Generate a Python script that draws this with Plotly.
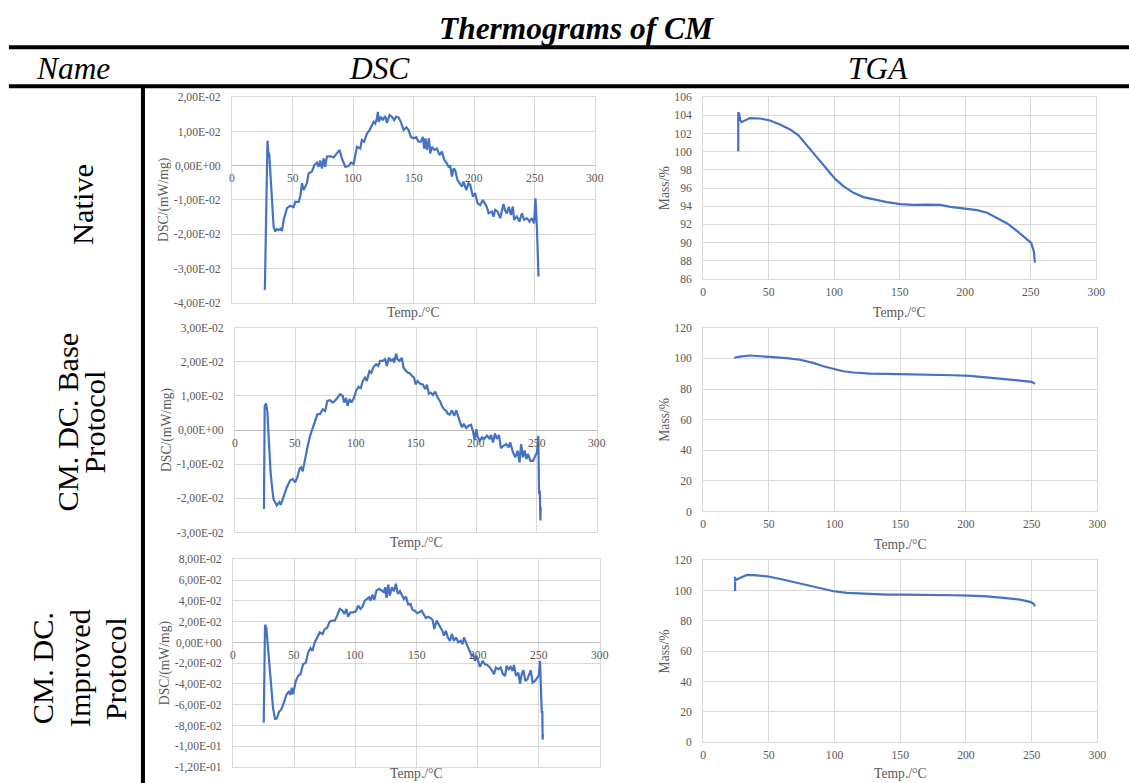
import plotly.graph_objects as go

# ---------------- data ----------------
dsc_native_t = [27.0, 27.2, 29.3, 30.0, 30.8, 32.0, 33.0, 34.4, 35.8, 37.0, 38.5, 40.0, 41.3, 42.7, 45.4, 48.2, 50.9, 52.3, 55.0, 56.4,
                57.8, 59.2, 61.9, 63.3, 66.1, 68.0, 70.2, 71.6, 72.9, 74.3, 75.7, 77.0, 78.4, 81.2, 84.0, 86.7, 88.9, 90.8, 93.6, 96.3,
                98.3, 100.5, 103.2, 106.0, 107.3, 109.2, 111.5, 113.7, 115.6, 117.0, 118.3, 119.7, 120.5, 121.3, 123.0, 124.6, 126.6,
                128.0, 130.2, 132.1, 134.0, 135.6, 137.6, 139.5, 141.8, 144.0, 145.9, 147.8, 150.0, 152.2, 154.1, 156.0, 157.7, 158.8,
                159.9, 161.0, 162.7, 163.8, 165.2, 167.2, 169.3, 171.5, 173.4, 175.3, 177.5, 178.9, 180.3, 181.7, 183.1, 184.4, 186.3,
                188.0, 190.0, 191.3, 193.5, 195.4, 196.8, 199.0, 200.9, 202.9, 205.0, 207.3, 209.2, 210.6, 212.0, 214.8, 216.0, 217.4,
                219.4, 221.6, 224.3, 225.7, 227.1, 228.7, 230.4, 232.0, 233.1, 235.3, 237.5, 239.5, 241.4, 243.6, 245.8, 247.7, 249.6,
                250.7, 251.9, 252.4, 252.9, 253.2]
dsc_native_v = [-3.62, -3.55, 0.73, 0.40, 0.33, -0.40, -0.90, -1.78, -1.92, -1.85, -1.88, -1.84, -1.90, -1.58, -1.24, -1.17, -1.21, -1.05, -1.06, -0.90,
                -0.51, -0.71, -0.51, -0.22, -0.17, 0.02, 0.09, -0.03, 0.15, -0.08, 0.21, -0.03, 0.26, 0.28, 0.24, 0.36, 0.46, 0.21, -0.03, -0.01,
                0.09, 0.05, 0.55, 0.50, 0.75, 0.70, 0.94, 1.04, 1.18, 1.28, 1.23, 1.38, 1.57, 1.28, 1.43, 1.33, 1.45,
                1.25, 1.48, 1.43, 1.33, 1.43, 1.41, 1.28, 1.04, 1.12, 1.04, 0.84, 0.80, 0.83, 0.70, 0.70, 0.84, 0.50,
                0.80, 0.46, 0.80, 0.36, 0.55, 0.46, 0.50, 0.31, 0.41, 0.18, 0.07, -0.03, -0.01, -0.32, -0.08, -0.13, -0.42,
                -0.51, -0.61, -0.46, -0.71, -0.51, -0.56, -0.90, -0.80, -1.10, -1.15, -1.00, -1.10, -1.21, -1.39, -1.34, -1.49, -1.29,
                -1.34, -1.53, -1.12, -1.31, -1.39, -1.20, -1.44, -1.19, -1.58, -1.48, -1.63, -1.39, -1.58, -1.53, -1.63, -1.53, -1.68,
                -0.95, -1.78, -2.46, -2.75, -3.23]

dsc_base_t = [24.0, 24.6, 25.7, 26.8, 27.9, 29.6, 31.8, 34.6, 36.8, 37.9, 40.1, 42.9, 45.6, 47.8, 49.8, 51.7, 53.4, 54.8, 56.1, 58.1,
              60.0, 62.2, 64.4, 66.4, 68.3, 70.5, 72.7, 74.7, 76.6, 78.8, 81.0, 82.9, 84.9, 87.1, 89.3, 90.4, 92.0, 93.2, 94.9, 96.5,
              98.1, 100.4, 102.3, 104.2, 105.9, 107.8, 109.2, 111.4, 113.0, 114.7, 116.9, 118.6, 120.3, 122.5, 124.4, 125.8, 127.5,
              129.1, 130.8, 131.9, 133.5, 134.6, 136.3, 138.2, 139.6, 141.0, 142.9, 145.1, 146.5, 148.4, 149.6, 151.2, 153.4, 155.6,
              157.6, 159.0, 160.6, 162.2, 163.9, 165.9, 167.8, 170.0, 171.4, 173.3, 175.0, 176.1, 177.8, 179.7, 181.6, 183.3, 184.7,
              186.1, 188.0, 189.4, 191.6, 193.5, 195.5, 197.1, 198.5, 199.9, 201.0, 202.7, 204.6, 206.5, 208.7, 211.0, 212.0, 213.7,
              215.4, 217.0, 218.7, 220.3, 222.5, 224.8, 226.7, 228.0, 230.3, 232.2, 234.2, 235.8, 237.0, 238.6, 240.0, 241.4, 242.7,
              244.7, 246.9, 249.1, 250.2, 251.3, 251.9, 252.5, 253.0, 253.3]
dsc_base_v = [-2.31, 0.71, 0.78, 0.56, -0.21, -1.29, -2.02, -2.21, -2.11, -2.19, -1.97, -1.68, -1.48, -1.43, -1.53, -1.38, -1.14, -1.09, -1.21, -0.80,
              -0.51, -0.17, 0.08, 0.32, 0.47, 0.47, 0.61, 0.56, 0.86, 0.88, 0.81, 0.86, 0.94, 1.05, 1.00, 0.81, 0.94, 0.71, 0.91, 0.81,
              0.91, 1.15, 1.27, 1.23, 1.44, 1.54, 1.44, 1.73, 1.68, 1.85, 1.93, 1.88, 2.03, 2.03, 2.08, 1.88, 2.13,
              2.03, 2.08, 1.98, 2.24, 2.08, 2.03, 2.12, 1.83, 1.78, 1.69, 1.66, 1.59, 1.54, 1.34, 1.44, 1.36, 1.34,
              1.20, 1.33, 1.07, 1.10, 1.03, 1.13, 0.96, 0.84, 0.71, 0.61, 0.56, 0.49, 0.45, 0.58, 0.42, 0.58, 0.39,
              0.27, 0.08, 0.18, 0.06, 0.13, 0.16, -0.02, -0.29, 0.03, -0.19, -0.31, -0.21, -0.26, -0.16, -0.26, -0.14, -0.36,
              -0.10, -0.26, -0.14, -0.53, -0.46, -0.41, -0.51, -0.36, -0.65, -0.80, -0.60, -0.95, -0.41, -0.80, -0.60, -0.85, -0.70,
              -0.90, -0.90, -0.70, -0.65, -0.17, -1.87, -1.78, -2.65, -2.26]

dsc_imp_t = [25.1, 26.2, 27.3, 28.9, 30.8, 32.7, 34.4, 36.0, 37.6, 39.5, 41.5, 43.6, 45.8, 46.9, 48.0, 49.1, 51.3, 53.2, 55.1, 57.3,
             59.5, 61.4, 63.3, 64.9, 66.8, 68.7, 70.9, 73.1, 75.0, 76.9, 79.1, 81.3, 83.2, 85.1, 87.3, 89.5, 91.1, 92.7, 94.1, 96.0,
             98.2, 100.4, 102.3, 104.2, 105.8, 107.7, 109.6, 111.3, 112.4, 114.0, 115.4, 117.3, 119.5, 121.4, 123.3, 124.4, 125.5,
             126.8, 128.2, 129.8, 131.5, 133.1, 134.7, 136.4, 137.7, 139.6, 141.3, 143.2, 145.1, 146.7, 148.6, 150.5, 152.2, 154.1,
             156.0, 157.6, 159.5, 161.5, 163.1, 164.5, 166.4, 168.0, 169.6, 171.3, 172.4, 174.0, 175.6, 177.3, 178.9, 180.5, 182.2,
             184.1, 186.0, 187.6, 188.7, 190.4, 192.3, 193.6, 195.0, 196.3, 197.7, 199.1, 200.5, 201.8, 204.0, 205.9, 207.8, 210.0,
             212.2, 213.3, 214.9, 216.8, 218.7, 220.4, 222.3, 223.6, 225.3, 226.9, 228.5, 229.6, 231.3, 233.2, 234.5, 235.9, 237.3,
             238.9, 240.5, 242.2, 243.3, 244.9, 246.8, 248.7, 249.8, 250.9, 251.5, 252.3, 252.8, 253.0, 253.3]
dsc_imp_v = [-7.74, 1.71, 1.39, -1.13, -4.03, -6.29, -7.42, -7.26, -6.68, -6.45, -5.81, -5.06, -4.68, -5.06, -4.35, -5.00, -3.71, -3.23, -3.06, -2.10,
             -1.94, -0.97, -0.55, -0.81, 0.00, 0.48, 0.97, 0.81, 1.29, 1.39, 2.03, 2.10, 2.10, 2.58, 3.23, 3.06, 2.74, 3.23, 2.48, 2.90,
             2.90, 3.00, 3.55, 3.23, 3.45, 4.03, 4.19, 4.35, 4.03, 4.61, 4.10, 5.00, 5.16, 5.00, 4.84, 5.32, 4.29,
             5.58, 4.52, 5.32, 4.94, 5.65, 4.68, 4.94, 4.68, 4.19, 4.42, 3.65, 3.71, 3.13, 3.06, 2.81, 2.90, 3.06,
             2.68, 2.35, 2.48, 2.35, 2.16, 1.29, 2.10, 1.77, 1.52, 1.06, 0.65, 1.13, 0.48, 0.16, 0.81, 0.16, 0.48,
             0.00, 0.16, -0.16, 0.48, 0.00, -0.48, -0.97, -1.29, -1.13, -1.77, -1.29, -1.94, -2.35, -1.77, -2.10, -2.16, -2.42,
             -2.81, -3.06, -2.42, -2.58, -2.42, -3.00, -3.23, -2.26, -2.58, -2.35, -2.74, -2.16, -3.23, -2.90, -3.97, -3.06, -2.68,
             -3.71, -3.55, -3.06, -2.68, -3.87, -3.71, -3.39, -3.23, -1.77, -4.84, -6.77, -6.61, -9.35, -8.87]

tga_native_t = [26.8, 26.8, 27.5, 28.2, 29.3, 31.0, 35.7, 43.3, 51.0, 58.6, 66.3, 72.7, 79.0, 86.7, 94.3, 100.7, 107.0, 114.7, 122.3,
                130.0, 140.2, 150.4, 160.6, 170.8, 181.0, 188.6, 198.8, 209.0, 216.7, 224.3, 232.0, 239.6, 246.0, 250.3, 252.4, 253.1]
tga_native_m = [100.05, 104.35, 104.1, 103.5, 103.25, 103.35, 103.7, 103.65, 103.43, 103.0, 102.45, 101.8, 100.7, 99.4, 98.0, 97.0, 96.2,
                95.47, 95.0, 94.73, 94.44, 94.22, 94.15, 94.18, 94.15, 93.93, 93.78, 93.56, 93.27, 92.72, 92.1, 91.25, 90.5, 89.96, 89.0, 87.8]

tga_base_t = [23.6, 27.9, 35.5, 43.1, 53.3, 63.5, 73.6, 83.8, 91.4, 99.0, 106.6, 114.2, 126.9, 139.6, 152.3, 165.0, 177.7, 190.4,
              203.0, 215.7, 228.4, 241.1, 250.0, 252.5]
tga_base_m = [100.4, 101.2, 101.9, 101.5, 100.8, 100.2, 99.1, 97.1, 94.9, 93.0, 91.6, 90.8, 90.1, 89.9, 89.7, 89.7, 89.5, 89.0,
              88.6, 87.7, 86.8, 85.5, 84.7, 83.4]

tga_imp_t = [24.3, 24.3, 24.5, 28.4, 33.4, 41.0, 48.6, 58.8, 68.9, 79.0, 89.2, 99.3, 109.4, 119.6, 129.7, 139.8, 152.5, 165.2,
             177.9, 190.5, 203.2, 215.9, 228.5, 241.2, 248.8, 251.3, 252.6]
tga_imp_m = [99.8, 109.2, 106.9, 108.6, 110.4, 110.1, 109.5, 107.7, 105.7, 103.6, 101.4, 99.6, 98.5, 98.1, 97.6, 97.4, 97.4, 97.4,
             97.4, 97.0, 96.8, 96.3, 95.2, 94.1, 92.6, 91.5, 89.7]

temp_ticks = [0, 50, 100, 150, 200, 250, 300]
temp_labels = ["0", "50", "100", "150", "200", "250", "300"]

dsc_native_ticks = [-0.04, -0.03, -0.02, -0.01, 0.0, 0.01, 0.02]
dsc_native_labels = ["-4,00E-02", "-3,00E-02", "-2,00E-02", "-1,00E-02", "0,00E+00", "1,00E-02", "2,00E-02"]
dsc_base_ticks = [-0.03, -0.02, -0.01, 0.0, 0.01, 0.02, 0.03]
dsc_base_labels = ["-3,00E-02", "-2,00E-02", "-1,00E-02", "0,00E+00", "1,00E-02", "2,00E-02", "3,00E-02"]
dsc_imp_ticks = [-0.12, -0.10, -0.08, -0.06, -0.04, -0.02, 0.0, 0.02, 0.04, 0.06, 0.08]
dsc_imp_labels = ["-1,20E-01", "-1,00E-01", "-8,00E-02", "-6,00E-02", "-4,00E-02", "-2,00E-02", "0,00E+00",
                  "2,00E-02", "4,00E-02", "6,00E-02", "8,00E-02"]

row_names = [["Native"], ["CM. DC. Base", "Protocol"], ["CM. DC.", "Improved", "Protocol"]]
header_title = "Thermograms of CM"
col_headers = ["Name", "DSC", "TGA"]
dsc_title = "DSC/(mW/mg)"
tga_title = "Mass/%"
temp_title = "Temp./°C"

# ---------------- layout helpers ----------------
W, H = 1129, 783
# the photographed page comes out slightly shrunk/offset; map wanted screen px to figure px
AX, BX = 3.1, 0.989
AY, BY = 4.7, 0.985
def X(px):
    return ((px - AX) / BX) / W
def Y(py):
    return 1 - ((py - AY) / BY) / H
K = 1 / ((BX + BY) / 2)  # size compensation

SERIF = "Liberation Serif, Times New Roman, serif"
GRAY = "#595959"
GRID = "#d9d9d9"
BLUE = "#4472C4"
TICKFONT = dict(family=SERIF, size=11.5 * K, color=GRAY)
TITLEFONT = dict(family=SERIF, size=13.5 * K, color=GRAY)

# panel boxes in screen px: (x0, x1, ytop, ybottom)
boxes = {
    1: (232, 595, 96, 302),
    2: (703, 1096, 96, 278),
    3: (235, 597, 327, 532),
    4: (703, 1097, 327, 511),
    5: (233, 600, 559, 767),
    6: (703, 1097, 560, 742),
}
# screen y of the "Temp./°C" caption under each panel
temp_title_y = {1: 312, 2: 312, 3: 542, 4: 544, 5: 773, 6: 773}

fig = go.Figure()
series = [
    (1, dsc_native_t, [v * 0.01 for v in dsc_native_v]),
    (2, tga_native_t, tga_native_m),
    (3, dsc_base_t, [v * 0.01 for v in dsc_base_v]),
    (4, tga_base_t, tga_base_m),
    (5, dsc_imp_t, [v * 0.01 for v in dsc_imp_v]),
    (6, tga_imp_t, tga_imp_m),
]
for k, t, v in series:
    fig.add_trace(go.Scatter(x=t, y=v, mode="lines", line=dict(color=BLUE, width=2.2),
                             xaxis=f"x{k}", yaxis=f"y{k}", showlegend=False, hoverinfo="skip"))

yconf = {
    1: dict(range=[-0.04, 0.02], tickvals=dsc_native_ticks, ticktext=dsc_native_labels),
    2: dict(range=[86, 106], dtick=2, tick0=86),
    3: dict(range=[-0.03, 0.03], tickvals=dsc_base_ticks, ticktext=dsc_base_labels),
    4: dict(range=[0, 120], dtick=20, tick0=0),
    5: dict(range=[-0.12, 0.08], tickvals=dsc_imp_ticks, ticktext=dsc_imp_labels),
    6: dict(range=[0, 120], dtick=20, tick0=0),
}

layout = dict(width=W, height=H, margin=dict(l=0, r=0, t=0, b=0), autosize=False,
              paper_bgcolor="white", plot_bgcolor="white", showlegend=False)
annotations = []
for k, (x0, x1, yt, yb) in boxes.items():
    dsc = k in (1, 3, 5)
    layout[f"xaxis{k}"] = dict(domain=[X(x0), X(x1)], anchor=f"y{k}", range=[0, 300],
                               tickvals=temp_ticks, ticktext=temp_labels,
                               showgrid=True, gridcolor=GRID, gridwidth=1,
                               showline=True, linecolor=GRID, linewidth=1, mirror=True,
                               zeroline=False, ticks="", showticklabels=not dsc,
                               tickfont=TICKFONT, ticklabelstandoff=2, fixedrange=True)
    yc = dict(domain=[Y(yb), Y(yt)], anchor=f"x{k}", showgrid=True, gridcolor=GRID, gridwidth=1,
              showline=True, linecolor=GRID, linewidth=1, mirror=True,
              zeroline=dsc, zerolinecolor="#bfbfbf", zerolinewidth=1,
              ticks="", tickfont=TICKFONT, ticklabelstandoff=8, fixedrange=True)
    yc.update(yconf[k])
    layout[f"yaxis{k}"] = yc
    # x tick labels on DSC panels sit on the zero line
    if dsc:
        for tv, tl in zip(temp_ticks, temp_labels):
            annotations.append(dict(x=tv, y=0, xref=f"x{k}", yref=f"y{k}", text=tl, showarrow=False,
                                    xanchor="center", yshift=-13 * K, font=TICKFONT))
    # axis titles
    annotations.append(dict(x=X((x0 + x1) / 2), y=Y(temp_title_y[k]), xref="paper", yref="paper",
                            text=temp_title, showarrow=False, font=TITLEFONT, xanchor="center", yanchor="middle"))
    ytx = x0 - (68 if dsc else 39)
    annotations.append(dict(x=X(ytx), y=Y((yt + yb) / 2), xref="paper", yref="paper",
                            text=dsc_title if dsc else tga_title, showarrow=False, font=TITLEFONT,
                            textangle=-90, xanchor="center", yanchor="middle"))

HDR = dict(family=SERIF, size=31 * K, color="black")
ROWF = dict(family=SERIF, size=30 * K, color="black")
annotations.append(dict(x=X(576), y=Y(27), xref="paper", yref="paper", text=f"<b><i>{header_title}</i></b>",
                        showarrow=False, font=HDR, xanchor="center", yanchor="middle"))
for txt, cx in zip(col_headers, [73, 379, 878]):
    annotations.append(dict(x=X(cx), y=Y(67), xref="paper", yref="paper", text=f"<i>{txt}</i>",
                            showarrow=False, font=HDR, xanchor="center", yanchor="middle"))

row_pos = [([83], 203), ([68, 95], 421), ([43, 80, 116], 668)]
for lines, (xs, cy) in zip(row_names, row_pos):
    for txt, cx in zip(lines, xs):
        annotations.append(dict(x=X(cx), y=Y(cy), xref="paper", yref="paper", text=txt, showarrow=False,
                                font=ROWF, textangle=-90, xanchor="center", yanchor="middle"))

LW = 4 * K
shapes = [
    dict(type="line", xref="paper", yref="paper", x0=X(9), x1=X(1140), y0=Y(46), y1=Y(46), line=dict(color="black", width=LW)),
    dict(type="line", xref="paper", yref="paper", x0=X(9), x1=X(1140), y0=Y(85), y1=Y(85), line=dict(color="black", width=LW)),
    dict(type="line", xref="paper", yref="paper", x0=X(143), x1=X(143), y0=Y(85), y1=Y(800), line=dict(color="black", width=LW)),
]
layout["annotations"] = annotations
layout["shapes"] = shapes
fig.update_layout(**layout)
fig.write_html("out.html")
